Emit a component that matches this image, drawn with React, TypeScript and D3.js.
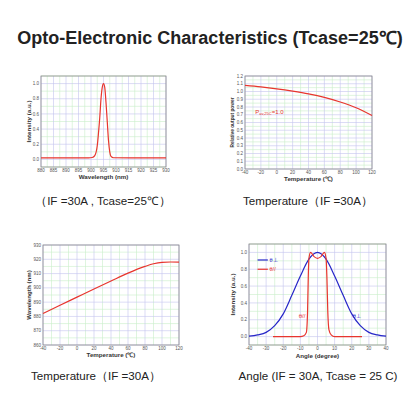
import * as d3 from 'd3'
import type { ReactNode } from 'react'

// spectrum (top left)
const spectrumNm = [880, 890, 899, 900.5, 901.5, 902.5, 903, 903.5, 904, 904.5, 905, 905.5, 906, 906.5, 907, 907.5, 908, 909, 920, 930]
const spectrumVal = [0.02, 0.02, 0.02, 0.025, 0.05, 0.18, 0.35, 0.55, 0.8, 0.95, 1.0, 0.95, 0.75, 0.5, 0.25, 0.1, 0.04, 0.022, 0.02, 0.02]

// relative output power vs temperature (top right)
const powerTemp = [-40, -20, 0, 20, 40, 60, 80, 100, 120]
const powerVal = [1.08, 1.06, 1.035, 1.005, 0.97, 0.925, 0.865, 0.79, 0.69]

// wavelength vs temperature (bottom left)
const waveTemp = [-40, -20, 0, 20, 40, 60, 80, 90, 100, 110, 120]
const waveVal = [882, 887.8, 893.5, 899.2, 904.8, 910.3, 915, 916.9, 917.9, 918.1, 918]

// far field (bottom right)
const perpAngle = [-40, -35, -30, -25, -20, -15, -10, -5, 0, 5, 10, 15, 20, 25, 30, 35, 40]
const perpVal = [0.005, 0.02, 0.05, 0.13, 0.27, 0.49, 0.72, 0.92, 1.0, 0.92, 0.72, 0.49, 0.27, 0.13, 0.05, 0.02, 0.005]
const parAngle = [-26, -10, -8, -6.5, -5.8, -5.4, -5, -4, -2, 0, 2, 4, 5, 5.5, 6, 6.7, 8, 10, 26]
const parVal = [0, 0, 0.01, 0.05, 0.3, 0.7, 0.93, 1.0, 0.95, 0.93, 0.95, 1.0, 0.93, 0.7, 0.3, 0.08, 0.02, 0, 0]

const RED = '#e8352e'
const BLUE = '#2626c8'
const FONT = 'Liberation Sans, Arial, sans-serif'

type Box = { x0: number; x1: number; y0: number; y1: number }
type Scale = d3.ScaleLinear<number, number>

interface PanelProps {
  box: Box
  xDomain: [number, number]
  yDomain: [number, number]
  xTicks: number[]
  yTicks: number[]
  xMinor: number[]
  yMinor: number[]
  yFmt: (v: number) => string
  xTitle: string
  yTitle: string
  xTitleY: number
  yTitleX: number
  yTitleSize?: number
  extra: (x: Scale, y: Scale) => ReactNode
}

function Panel(p: PanelProps) {
  const x = d3.scaleLinear().domain(p.xDomain).range([p.box.x0, p.box.x1])
  const y = d3.scaleLinear().domain(p.yDomain).range([p.box.y1, p.box.y0])
  const cy = (p.box.y0 + p.box.y1) / 2
  const cx = (p.box.x0 + p.box.x1) / 2
  return (
    <g fontFamily={FONT}>
      {p.xMinor.map(v => (
        <line key={'xm' + v} x1={x(v)} x2={x(v)} y1={p.box.y0} y2={p.box.y1} stroke="#c9efc9" strokeWidth={0.6} />
      ))}
      {p.yMinor.map(v => (
        <line key={'ym' + v} x1={p.box.x0} x2={p.box.x1} y1={y(v)} y2={y(v)} stroke="#c9efc9" strokeWidth={0.6} />
      ))}
      {p.xTicks.map(v => (
        <line key={'xg' + v} x1={x(v)} x2={x(v)} y1={p.box.y0} y2={p.box.y1} stroke="#c4c4ee" strokeWidth={0.6} />
      ))}
      {p.yTicks.map(v => (
        <line key={'yg' + v} x1={p.box.x0} x2={p.box.x1} y1={y(v)} y2={y(v)} stroke="#c4c4ee" strokeWidth={0.6} />
      ))}
      <rect x={p.box.x0} y={p.box.y0} width={p.box.x1 - p.box.x0} height={p.box.y1 - p.box.y0} fill="none" stroke="#8a8a8a" strokeWidth={0.8} />
      {p.xTicks.map(v => (
        <text key={'xt' + v} x={x(v)} y={p.box.y1 + 5.3} fontSize={4.5} fill="#555" textAnchor="middle">{v}</text>
      ))}
      {p.yTicks.map(v => (
        <text key={'yt' + v} x={p.box.x0 - 2} y={y(v) + 1.6} fontSize={4.5} fill="#555" textAnchor="end">{p.yFmt(v)}</text>
      ))}
      <text x={cx} y={p.xTitleY} fontSize={6.2} fontWeight="bold" fill="#333" textAnchor="middle">{p.xTitle}</text>
      <text transform={`translate(${p.yTitleX},${cy}) rotate(-90)`} fontSize={p.yTitleSize ?? 6.2} fontWeight="bold" fill="#333" textAnchor="middle">{p.yTitle}</text>
      {p.extra(x, y)}
    </g>
  )
}

function path(xs: number[], ys: number[], x: Scale, y: Scale) {
  const line = d3.line<number>()
    .x((_, i) => x(xs[i]))
    .y(v => y(v))
    .curve(d3.curveMonotoneX)
  return line(ys) ?? ''
}

const range = (a: number, b: number, s: number) => d3.range(a, b + s / 2, s)

export default function App() {
  return (
    <div style={{ position: 'absolute', left: 0, top: 0 }}>
      <svg width={420} height={420} viewBox="0 0 420 420" style={{ display: 'block', background: '#fff' }}>
        <text x={210} y={44} textAnchor="middle" fontFamily={FONT} fontSize={18} fontWeight="bold" fill="#222">
          Opto-Electronic Characteristics (Tcase=25℃)
        </text>

        <Panel
          box={{ x0: 41, x1: 166, y0: 76, y1: 167 }}
          xDomain={[880, 930]}
          yDomain={[-0.1, 1.1]}
          xTicks={range(880, 930, 5)}
          yTicks={range(0, 1, 0.2)}
          xMinor={range(882.5, 927.5, 5)}
          yMinor={range(-0.1, 1.1, 0.2)}
          yFmt={v => v.toFixed(1)}
          xTitle="Wavelength (nm)"
          yTitle="Intensity (a.u.)"
          xTitleY={179}
          yTitleX={31}
          extra={(x, y) => <path d={path(spectrumNm, spectrumVal, x, y)} fill="none" stroke={RED} strokeWidth={1.2} />}
        />

        <Panel
          box={{ x0: 245, x1: 372, y0: 76, y1: 169 }}
          xDomain={[-40, 120]}
          yDomain={[0, 1.2]}
          xTicks={range(-40, 120, 20)}
          yTicks={range(0, 1.2, 0.1)}
          xMinor={range(-30, 110, 20)}
          yMinor={range(0.05, 1.15, 0.1)}
          yFmt={v => v.toFixed(1)}
          xTitle="Temperature (℃)"
          yTitle="Relative output power"
          xTitleY={181}
          yTitleX={234}
          yTitleSize={4.8}
          extra={(x, y) => (
            <g>
              <path d={path(powerTemp, powerVal, x, y)} fill="none" stroke={RED} strokeWidth={1.2} />
              <text x={x(-27)} y={y(0.71)} fontSize={6} fill={RED}>
                P<tspan fontSize={4} dy={1.5}>av,25C</tspan><tspan dy={-1.5}>=1.0</tspan>
              </text>
            </g>
          )}
        />

        <Panel
          box={{ x0: 43, x1: 179, y0: 245, y1: 345 }}
          xDomain={[-40, 120]}
          yDomain={[860, 930]}
          xTicks={range(-40, 120, 20)}
          yTicks={range(860, 930, 10)}
          xMinor={range(-30, 110, 20)}
          yMinor={range(865, 925, 10)}
          yFmt={v => String(v)}
          xTitle="Temperature (℃)"
          yTitle="Wavelength (nm)"
          xTitleY={357}
          yTitleX={31}
          extra={(x, y) => <path d={path(waveTemp, waveVal, x, y)} fill="none" stroke={RED} strokeWidth={1.2} />}
        />

        <Panel
          box={{ x0: 249, x1: 386, y0: 244, y1: 345 }}
          xDomain={[-40, 40]}
          yDomain={[-0.1, 1.1]}
          xTicks={range(-40, 40, 10)}
          yTicks={range(0, 1, 0.2)}
          xMinor={range(-35, 35, 10)}
          yMinor={range(-0.1, 1.1, 0.2)}
          yFmt={v => v.toFixed(1)}
          xTitle="Angle (degree)"
          yTitle="Intensity (a.u.)"
          xTitleY={358}
          yTitleX={235}
          extra={(x, y) => (
            <g>
              <path d={path(perpAngle, perpVal, x, y)} fill="none" stroke={BLUE} strokeWidth={1.2} />
              <path d={path(parAngle, parVal, x, y)} fill="none" stroke={RED} strokeWidth={1.2} />
              <line x1={x(-35)} x2={x(-29)} y1={y(0.91)} y2={y(0.91)} stroke={BLUE} strokeWidth={1.2} />
              <text x={x(-28)} y={y(0.91) + 1.8} fontSize={5.5} fill={BLUE}>θ⊥</text>
              <line x1={x(-35)} x2={x(-29)} y1={y(0.8)} y2={y(0.8)} stroke={RED} strokeWidth={1.2} />
              <text x={x(-28)} y={y(0.8) + 1.8} fontSize={5.5} fill={RED}>θ//</text>
              <text x={x(-11)} y={y(0.22)} fontSize={6} fill={RED}>θ//</text>
              <text x={x(20.5)} y={y(0.22)} fontSize={6} fill={BLUE}>θ⊥</text>
            </g>
          )}
        />

        <g fontFamily={FONT} fontSize={11.6} fill="#222" textAnchor="middle">
          <text x={103} y={205}>（IF =30A , Tcase=25℃）</text>
          <text x={308} y={205}>Temperature（IF =30A）</text>
          <text x={96} y={380}>Temperature（IF =30A）</text>
          <text x={318} y={380}>Angle (IF = 30A, Tcase = 25 C)</text>
        </g>
      </svg>
    </div>
  )
}
